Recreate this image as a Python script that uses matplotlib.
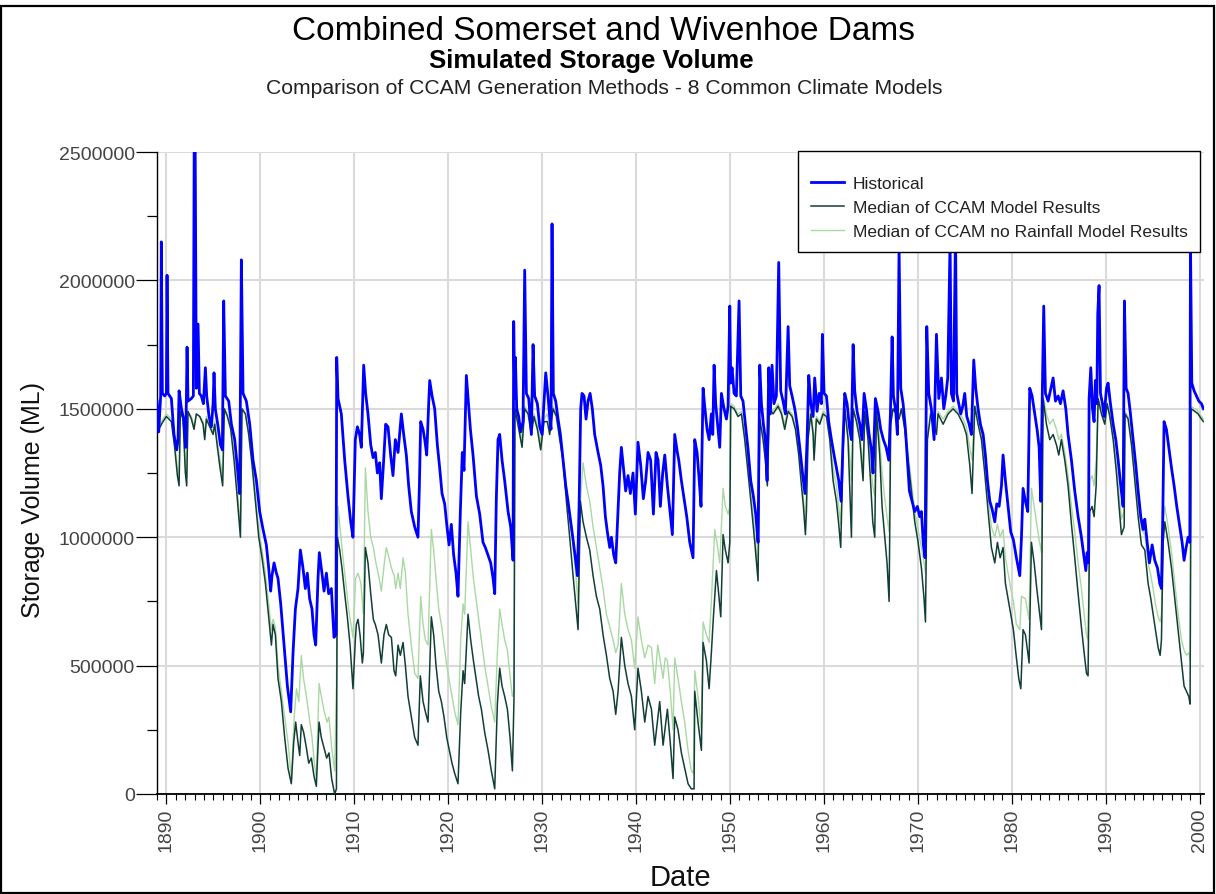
import matplotlib
matplotlib.use("Agg")
import matplotlib.pyplot as plt
from matplotlib.patches import Rectangle
from matplotlib.ticker import MultipleLocator

# ---------------- data ----------------
title = "Combined Somerset and Wivenhoe Dams"
subtitle = "Simulated Storage Volume"
subsubtitle = "Comparison of CCAM Generation Methods - 8 Common Climate Models"
series_names = ["Historical", "Median of CCAM Model Results",
                "Median of CCAM no Rainfall Model Results"]
x_ticks = [1890, 1900, 1910, 1920, 1930, 1940, 1950, 1960, 1970, 1980, 1990, 2000]
y_ticks = [0, 500000, 1000000, 1500000, 2000000, 2500000]

# Historical storage (year, thousand ML)
hist_year = [
    1889.00, 1889.18, 1889.39, 1889.46, 1889.57, 1889.82, 1890.00, 1890.07, 1890.17, 1890.53,
    1890.81, 1891.10, 1891.24, 1891.35, 1891.60, 1891.84, 1892.06, 1892.20, 1892.30, 1892.66,
    1892.87, 1892.96, 1893.06, 1893.19, 1893.37, 1893.51, 1893.72, 1893.94, 1894.15, 1894.29,
    1894.54, 1894.79, 1894.97, 1895.07, 1895.21, 1895.50, 1895.75, 1895.96, 1896.10, 1896.28,
    1896.63, 1896.92, 1897.27, 1897.56, 1897.80, 1897.98, 1898.16, 1898.51, 1898.87, 1899.22,
    1899.58, 1899.93, 1900.29, 1900.64, 1900.89, 1901.10, 1901.24, 1901.46, 1901.71, 1901.88,
    1902.17, 1902.52, 1902.88, 1903.23, 1903.48, 1903.73, 1904.01, 1904.26, 1904.54, 1904.79,
    1905.00, 1905.25, 1905.50, 1905.71, 1905.89, 1906.14, 1906.28, 1906.56, 1906.78, 1907.03,
    1907.27, 1907.56, 1907.84, 1908.05, 1908.13, 1908.27, 1908.62, 1908.98, 1909.33, 1909.62,
    1909.86, 1910.11, 1910.33, 1910.57, 1910.75, 1911.00, 1911.21, 1911.46, 1911.75, 1912.00,
    1912.24, 1912.46, 1912.70, 1912.88, 1913.13, 1913.34, 1913.59, 1913.87, 1914.12, 1914.37,
    1914.66, 1915.01, 1915.26, 1915.54, 1915.79, 1916.07, 1916.43, 1916.78, 1916.93, 1917.07,
    1917.32, 1917.50, 1917.71, 1917.92, 1918.03, 1918.28, 1918.56, 1918.84, 1919.09, 1919.34,
    1919.62, 1919.87, 1920.09, 1920.33, 1920.58, 1920.83, 1921.04, 1921.29, 1921.50, 1921.68,
    1921.93, 1922.11, 1922.36, 1922.64, 1923.00, 1923.35, 1923.70, 1923.95, 1924.24, 1924.52,
    1924.77, 1924.95, 1925.12, 1925.30, 1925.48, 1925.73, 1926.01, 1926.37, 1926.65, 1926.90,
    1926.97, 1927.08, 1927.15, 1927.29, 1927.50, 1927.71, 1927.96, 1928.14, 1928.32, 1928.57,
    1928.85, 1929.03, 1929.20, 1929.49, 1929.74, 1929.99, 1930.38, 1930.62, 1930.80, 1930.94,
    1931.05, 1931.19, 1931.44, 1931.69, 1931.94, 1932.22, 1932.51, 1932.75, 1933.04, 1933.29,
    1933.53, 1933.75, 1933.93, 1934.10, 1934.24, 1934.46, 1934.67, 1934.88, 1935.10, 1935.34,
    1935.59, 1935.95, 1936.23, 1936.48, 1936.73, 1936.94, 1937.19, 1937.37, 1937.62, 1937.83,
    1938.01, 1938.25, 1938.43, 1938.68, 1938.89, 1939.14, 1939.39, 1939.67, 1939.92, 1940.20,
    1940.49, 1940.77, 1941.02, 1941.27, 1941.55, 1941.84, 1942.12, 1942.34, 1942.58, 1942.83,
    1943.05, 1943.33, 1943.61, 1943.86, 1944.11, 1944.39, 1944.54, 1944.82, 1945.10, 1945.39,
    1945.71, 1945.88, 1946.06, 1946.24, 1946.49, 1946.70, 1946.91, 1947.13, 1947.30, 1947.55,
    1947.77, 1948.01, 1948.16, 1948.30, 1948.47, 1948.72, 1948.90, 1949.08, 1949.36, 1949.61,
    1949.79, 1949.97, 1950.07, 1950.21, 1950.43, 1950.67, 1950.96, 1951.14, 1951.38, 1951.63,
    1951.92, 1952.20, 1952.48, 1952.73, 1952.98, 1953.16, 1953.34, 1953.55, 1953.76, 1953.94,
    1954.12, 1954.29, 1954.47, 1954.68, 1954.93, 1955.18, 1955.39, 1955.64, 1955.89, 1956.18,
    1956.35, 1956.60, 1956.89, 1957.17, 1957.45, 1957.74, 1957.98, 1958.20, 1958.38, 1958.59,
    1958.84, 1959.01, 1959.26, 1959.48, 1959.72, 1959.83, 1960.01, 1960.26, 1960.50, 1960.79,
    1961.07, 1961.32, 1961.57, 1961.82, 1962.03, 1962.21, 1962.46, 1962.70, 1962.92, 1963.10,
    1963.27, 1963.52, 1963.81, 1964.05, 1964.27, 1964.51, 1964.80, 1965.05, 1965.22, 1965.47,
    1965.76, 1966.04, 1966.32, 1966.61, 1966.89, 1967.07, 1967.25, 1967.39, 1967.64, 1967.81,
    1967.99, 1968.17, 1968.42, 1968.67, 1968.88, 1969.09, 1969.38, 1969.66, 1969.94, 1970.19,
    1970.37, 1970.58, 1970.76, 1970.94, 1971.15, 1971.43, 1971.72, 1971.97, 1972.22, 1972.50,
    1972.75, 1972.96, 1973.17, 1973.42, 1973.56, 1973.78, 1974.00, 1974.13, 1974.35, 1974.56,
    1974.77, 1974.98, 1975.20, 1975.45, 1975.69, 1975.94, 1976.15, 1976.40, 1976.65, 1976.94,
    1977.18, 1977.40, 1977.65, 1977.89, 1978.18, 1978.39, 1978.64, 1978.89, 1979.06, 1979.31,
    1979.60, 1979.88, 1980.16, 1980.48, 1980.84, 1981.02, 1981.19, 1981.44, 1981.69, 1981.90,
    1982.15, 1982.44, 1982.68, 1982.90, 1983.07, 1983.22, 1983.39, 1983.57, 1983.86, 1984.10,
    1984.39, 1984.64, 1984.92, 1985.17, 1985.45, 1985.74, 1985.98, 1986.34, 1986.69, 1987.05,
    1987.40, 1987.69, 1987.87, 1988.01, 1988.15, 1988.22, 1988.40, 1988.58, 1988.75, 1988.89,
    1989.04, 1989.14, 1989.28, 1989.43, 1989.64, 1989.82, 1990.07, 1990.24, 1990.49, 1990.78,
    1991.06, 1991.31, 1991.59, 1991.84, 1991.98, 1992.16, 1992.37, 1992.62, 1992.90, 1993.19,
    1993.44, 1993.72, 1993.97, 1994.15, 1994.40, 1994.64, 1994.93, 1995.21, 1995.50, 1995.74,
    1995.92, 1996.06, 1996.20, 1996.45, 1996.70, 1996.99, 1997.27, 1997.55, 1997.84, 1998.12,
    1998.33, 1998.55, 1998.76, 1998.94, 1999.01, 1999.15, 1999.40, 1999.65, 1999.90, 2000.18,
    2000.39]
hist_kml = [
    1530, 1410, 1550, 2150, 1560, 1550, 1560, 2020, 1560, 1540,
    1400, 1340, 1380, 1570, 1500, 1460, 1350, 1740, 1530, 1540,
    1550, 2550, 2550, 1580, 1830, 1560, 1550, 1520, 1660, 1550,
    1470, 1430, 1520, 1640, 1500, 1430, 1360, 1340, 1920, 1550,
    1530, 1440, 1380, 1270, 1170, 2080, 1560, 1530, 1440, 1300,
    1220, 1100, 1030, 970, 880, 790, 850, 900, 860, 840,
    740, 580, 420, 320, 550, 720, 800, 950, 880, 800,
    860, 760, 720, 620, 580, 840, 940, 860, 790, 860,
    780, 800, 610, 620, 1700, 1540, 1480, 1300, 1160, 1060,
    1000, 1380, 1430, 1400, 1350, 1670, 1560, 1480, 1360, 1310,
    1330, 1250, 1290, 1150, 1300, 1440, 1430, 1320, 1240, 1380,
    1330, 1480, 1400, 1320, 1200, 1100, 1040, 1000, 1200, 1450,
    1420, 1380, 1320, 1520, 1610, 1550, 1500, 1360, 1270, 1170,
    1130, 1040, 970, 1050, 930, 860, 770, 1100, 1330, 1260,
    1630, 1540, 1420, 1320, 1160, 1090, 980, 960, 930, 900,
    840, 780, 1150, 1380, 1400, 1300, 1220, 1100, 1040, 910,
    1840, 1540, 1700, 1500, 1470, 1410, 1450, 2040, 1560, 1540,
    1400, 1750, 1550, 1520, 1430, 1400, 1640, 1550, 1470, 1420,
    2220, 1560, 1530, 1460, 1400, 1300, 1200, 1140, 1060, 990,
    920, 850, 1120, 1500, 1560, 1550, 1460, 1530, 1560, 1500,
    1400, 1330, 1280, 1200, 1080, 1020, 960, 1000, 930, 900,
    1050, 1250, 1350, 1260, 1180, 1240, 1170, 1250, 1090, 1370,
    1280, 1150, 1220, 1330, 1300, 1090, 1330, 1300, 1120, 1250,
    1320, 1200, 1100, 1010, 1400, 1330, 1300, 1220, 1150, 1080,
    980, 950, 920, 1380, 1330, 1230, 1120, 1580, 1510, 1420,
    1380, 1480, 1400, 1670, 1520, 1420, 1350, 1560, 1500, 1460,
    1510, 1900, 1600, 1660, 1560, 1550, 1920, 1550, 1530, 1440,
    1340, 1220, 1160, 1090, 980, 1670, 1520, 1440, 1380, 1220,
    1660, 1480, 1670, 1520, 1550, 2070, 1570, 1530, 1480, 1820,
    1590, 1550, 1500, 1430, 1340, 1240, 1170, 1380, 1630, 1520,
    1470, 1620, 1490, 1560, 1520, 1790, 1560, 1550, 1450, 1380,
    1320, 1270, 1220, 1140, 1380, 1560, 1520, 1430, 1380, 1750,
    1570, 1490, 1440, 1380, 1560, 1500, 1400, 1340, 1250, 1540,
    1490, 1420, 1380, 1350, 1300, 1480, 1780, 1550, 1490, 1400,
    2130, 1580, 1520, 1420, 1300, 1180, 1140, 1100, 1120, 1080,
    1100, 970, 920, 1820, 1560, 1500, 1380, 1790, 1540, 1620,
    1500, 1550, 1620, 2150, 1560, 1530, 2200, 1560, 1520, 1480,
    1510, 1560, 1470, 1440, 1400, 1690, 1580, 1500, 1440, 1400,
    1320, 1220, 1140, 1110, 1060, 1130, 1120, 1200, 1320, 1220,
    1120, 1020, 990, 920, 850, 1000, 1190, 1140, 1100, 1580,
    1550, 1480, 1420, 1350, 1140, 1520, 1900, 1560, 1530, 1570,
    1620, 1530, 1550, 1520, 1570, 1500, 1400, 1300, 1180, 1080,
    1000, 920, 870, 940, 900, 1540, 1660, 1500, 1450, 1610,
    1520, 1870, 1980, 1560, 1520, 1470, 1580, 1600, 1520, 1440,
    1380, 1300, 1200, 1120, 1920, 1580, 1560, 1480, 1380, 1280,
    1180, 1080, 1030, 1070, 980, 900, 970, 910, 880, 820,
    800, 1080, 1450, 1420, 1350, 1270, 1200, 1120, 1050, 980,
    910, 960, 1000, 980, 2150, 1600, 1570, 1550, 1530, 1520,
    1500]

# Median of CCAM model results (year, thousand ML)
ccam_year = [
    1889.00, 1889.18, 1889.64, 1890.00, 1890.53, 1890.88, 1891.17, 1891.35, 1891.49, 1891.77,
    1892.02, 1892.16, 1892.30, 1892.66, 1892.94, 1893.19, 1893.55, 1893.90, 1894.08, 1894.26,
    1894.61, 1894.97, 1895.14, 1895.43, 1895.71, 1895.99, 1896.17, 1896.49, 1896.85, 1897.20,
    1897.48, 1897.70, 1897.88, 1898.05, 1898.41, 1898.76, 1899.12, 1899.47, 1899.83, 1900.18,
    1900.54, 1900.89, 1901.18, 1901.35, 1901.60, 1901.88, 1902.24, 1902.59, 1902.95, 1903.30,
    1903.55, 1903.76, 1904.01, 1904.19, 1904.36, 1904.61, 1904.90, 1905.15, 1905.43, 1905.71,
    1905.96, 1906.25, 1906.49, 1906.78, 1907.06, 1907.31, 1907.59, 1907.91, 1908.10, 1908.20,
    1908.45, 1908.69, 1908.98, 1909.26, 1909.55, 1909.86, 1910.11, 1910.22, 1910.40, 1910.61,
    1910.86, 1910.97, 1911.18, 1911.46, 1911.75, 1912.03, 1912.24, 1912.53, 1912.88, 1913.16,
    1913.41, 1913.66, 1913.95, 1914.23, 1914.41, 1914.66, 1914.90, 1915.19, 1915.44, 1915.72,
    1916.07, 1916.43, 1916.78, 1917.03, 1917.32, 1917.57, 1917.85, 1918.20, 1918.45, 1918.70,
    1918.99, 1919.27, 1919.55, 1919.84, 1920.12, 1920.40, 1920.69, 1921.04, 1921.33, 1921.58,
    1921.75, 1922.11, 1922.39, 1922.68, 1922.96, 1923.24, 1923.53, 1923.88, 1924.24, 1924.59,
    1924.95, 1925.23, 1925.48, 1925.73, 1926.01, 1926.30, 1926.58, 1926.83, 1927.00, 1927.11,
    1927.36, 1927.61, 1927.86, 1928.14, 1928.50, 1928.85, 1929.13, 1929.49, 1929.84, 1930.20,
    1930.55, 1930.80, 1931.16, 1931.51, 1931.87, 1932.22, 1932.58, 1932.93, 1933.29, 1933.57,
    1933.82, 1934.07, 1934.35, 1934.71, 1935.06, 1935.42, 1935.77, 1936.13, 1936.48, 1936.84,
    1937.19, 1937.55, 1937.83, 1938.08, 1938.43, 1938.79, 1939.14, 1939.50, 1939.85, 1940.20,
    1940.56, 1940.92, 1941.27, 1941.63, 1941.98, 1942.51, 1942.87, 1943.33, 1943.68, 1943.93,
    1944.11, 1944.46, 1944.82, 1945.17, 1945.53, 1945.88, 1946.17, 1946.24, 1946.59, 1946.95,
    1947.13, 1947.48, 1947.77, 1948.01, 1948.23, 1948.55, 1948.79, 1949.01, 1949.26, 1949.50,
    1949.79, 1949.97, 1950.07, 1950.43, 1950.85, 1951.21, 1951.56, 1951.92, 1952.27, 1952.63,
    1952.98, 1953.16, 1953.51, 1953.76, 1953.97, 1954.19, 1954.58, 1955.11, 1955.47, 1955.82,
    1956.18, 1956.60, 1956.96, 1957.31, 1957.60, 1957.81, 1958.02, 1958.13, 1958.30, 1958.59,
    1958.84, 1958.94, 1959.19, 1959.55, 1959.90, 1960.26, 1960.61, 1960.97, 1961.32, 1961.57,
    1961.78, 1962.03, 1962.21, 1962.56, 1962.78, 1962.92, 1963.10, 1963.45, 1963.81, 1964.16,
    1964.34, 1964.69, 1964.98, 1965.19, 1965.40, 1965.58, 1965.93, 1966.18, 1966.47, 1966.71,
    1966.93, 1967.10, 1967.35, 1967.71, 1967.99, 1968.24, 1968.60, 1968.95, 1969.31, 1969.66,
    1970.02, 1970.37, 1970.65, 1970.80, 1971.01, 1971.36, 1971.72, 1971.97, 1972.14, 1972.68,
    1973.21, 1973.74, 1974.27, 1974.81, 1975.16, 1975.52, 1975.76, 1976.05, 1976.40, 1976.76,
    1977.11, 1977.47, 1977.82, 1978.18, 1978.46, 1978.75, 1979.06, 1979.31, 1979.60, 1979.88,
    1980.16, 1980.48, 1980.73, 1980.95, 1981.19, 1981.44, 1981.66, 1981.83, 1982.08, 1982.37,
    1982.65, 1982.90, 1983.15, 1983.32, 1983.68, 1984.03, 1984.39, 1984.74, 1984.99, 1985.27,
    1985.63, 1985.98, 1986.34, 1986.69, 1987.05, 1987.40, 1987.69, 1987.94, 1988.11, 1988.29,
    1988.54, 1988.75, 1988.97, 1989.18, 1989.53, 1989.89, 1990.14, 1990.42, 1990.78, 1991.13,
    1991.41, 1991.66, 1991.95, 1992.05, 1992.37, 1992.73, 1993.08, 1993.44, 1993.79, 1994.15,
    1994.50, 1994.79, 1995.03, 1995.28, 1995.57, 1995.78, 1995.92, 1996.10, 1996.28, 1996.63,
    1996.99, 1997.34, 1997.70, 1998.05, 1998.33, 1998.58, 1998.83, 1998.97, 1999.08, 1999.47,
    1999.82, 2000.18, 2000.39]
ccam_kml = [
    1450, 1420, 1450, 1470, 1450, 1350, 1240, 1200, 1490, 1460,
    1250, 1200, 1490, 1460, 1420, 1480, 1470, 1440, 1380, 1460,
    1430, 1400, 1440, 1350, 1270, 1200, 1500, 1470, 1420, 1300,
    1180, 1080, 1000, 1500, 1480, 1400, 1280, 1140, 1000, 920,
    820, 690, 580, 660, 620, 450, 360, 220, 100, 40,
    200, 280, 200, 150, 270, 240, 180, 120, 140, 70,
    30, 280, 220, 180, 140, 160, 60, 0, 20, 1000,
    950, 880, 780, 690, 580, 410, 600, 660, 680, 620,
    510, 550, 960, 900, 780, 680, 660, 620, 510, 620,
    660, 620, 610, 480, 460, 580, 540, 590, 500, 380,
    300, 220, 190, 460, 360, 320, 280, 690, 620, 500,
    400, 360, 300, 220, 170, 120, 80, 40, 320, 480,
    430, 700, 600, 520, 450, 380, 330, 240, 170, 90,
    20, 350, 490, 420, 380, 330, 220, 90, 370, 1500,
    1450, 1400, 1350, 1500, 1480, 1400, 1470, 1420, 1340, 1450,
    1450, 1400, 1500, 1470, 1380, 1300, 1140, 1000, 850, 740,
    640, 1140, 1060, 1000, 950, 850, 770, 720, 620, 540,
    450, 400, 310, 400, 610, 500, 430, 380, 250, 490,
    400, 280, 380, 330, 190, 360, 190, 330, 180, 60,
    300, 250, 160, 100, 40, 20, 20, 400, 280, 170,
    590, 520, 410, 550, 690, 870, 780, 690, 1010, 950,
    900, 980, 1510, 1500, 1470, 1480, 1380, 1250, 1120, 980,
    830, 1460, 1380, 1300, 1200, 1500, 1480, 1510, 1480, 1420,
    1490, 1470, 1420, 1320, 1200, 1120, 1010, 1100, 1380, 1480,
    1400, 1300, 1460, 1440, 1480, 1470, 1380, 1220, 1140, 1050,
    960, 1330, 1500, 1380, 1150, 1000, 1500, 1450, 1380, 1220,
    1490, 1380, 1200, 1060, 1000, 1490, 1320, 1120, 1000, 900,
    750, 1440, 1500, 1480, 1460, 1500, 1420, 1300, 1180, 1060,
    980, 880, 760, 670, 1380, 1480, 1440, 1400, 1480, 1440,
    1480, 1500, 1480, 1440, 1400, 1280, 1170, 1510, 1440, 1380,
    1250, 1100, 960, 900, 980, 920, 960, 820, 760, 700,
    640, 530, 450, 410, 640, 620, 560, 510, 980, 900,
    800, 720, 640, 1540, 1440, 1380, 1400, 1360, 1320, 1380,
    1300, 1200, 1050, 920, 780, 650, 550, 470, 460, 1100,
    1120, 1080, 1200, 1540, 1480, 1440, 1520, 1470, 1380, 1250,
    1120, 1010, 1040, 1480, 1460, 1360, 1220, 1080, 970, 950,
    820, 760, 700, 640, 570, 540, 600, 980, 1060, 980,
    880, 760, 640, 520, 420, 400, 380, 350, 1500, 1490,
    1480, 1460, 1450]

# Median of CCAM no-rainfall model results (year, thousand ML)
norain_year = [
    1889.00, 1889.18, 1889.64, 1890.00, 1890.53, 1890.88, 1891.17, 1891.35, 1891.49, 1891.77,
    1892.02, 1892.16, 1892.30, 1892.66, 1892.94, 1893.19, 1893.55, 1893.90, 1894.08, 1894.26,
    1894.61, 1894.97, 1895.14, 1895.43, 1895.71, 1895.99, 1896.17, 1896.49, 1896.85, 1897.20,
    1897.48, 1897.70, 1897.88, 1898.05, 1898.41, 1898.76, 1899.12, 1899.47, 1899.83, 1900.18,
    1900.54, 1900.89, 1901.18, 1901.35, 1901.60, 1901.88, 1902.24, 1902.59, 1902.95, 1903.30,
    1903.60, 1903.85, 1904.10, 1904.36, 1904.60, 1904.90, 1905.20, 1905.50, 1905.75, 1905.96,
    1906.25, 1906.50, 1906.80, 1907.10, 1907.30, 1907.60, 1907.91, 1908.10, 1908.27, 1908.50,
    1908.80, 1909.10, 1909.40, 1909.65, 1909.86, 1910.15, 1910.40, 1910.70, 1910.97, 1911.18,
    1911.46, 1911.75, 1912.03, 1912.30, 1912.60, 1912.88, 1913.20, 1913.41, 1913.70, 1913.95,
    1914.25, 1914.41, 1914.66, 1914.90, 1915.19, 1915.44, 1915.72, 1916.07, 1916.43, 1916.78,
    1917.07, 1917.32, 1917.57, 1917.85, 1918.20, 1918.45, 1918.70, 1918.99, 1919.27, 1919.55,
    1919.84, 1920.12, 1920.40, 1920.69, 1921.04, 1921.33, 1921.58, 1921.75, 1922.11, 1922.39,
    1922.68, 1922.96, 1923.24, 1923.53, 1923.88, 1924.24, 1924.59, 1924.95, 1925.23, 1925.48,
    1925.73, 1926.01, 1926.30, 1926.58, 1926.83, 1927.00, 1927.10, 1927.36, 1927.61, 1927.86,
    1928.14, 1928.50, 1928.85, 1929.13, 1929.49, 1929.84, 1930.20, 1930.55, 1930.80, 1931.16,
    1931.51, 1931.87, 1932.22, 1932.58, 1932.93, 1933.29, 1933.57, 1933.82, 1934.07, 1934.35,
    1934.71, 1935.06, 1935.42, 1935.77, 1936.13, 1936.48, 1936.84, 1937.19, 1937.55, 1937.83,
    1938.08, 1938.43, 1938.79, 1939.14, 1939.50, 1939.85, 1940.20, 1940.56, 1940.92, 1941.27,
    1941.63, 1941.98, 1942.30, 1942.87, 1943.10, 1943.33, 1943.68, 1943.93, 1944.11, 1944.46,
    1944.82, 1945.17, 1945.53, 1945.88, 1946.10, 1946.24, 1946.59, 1946.95, 1947.13, 1947.48,
    1947.77, 1948.01, 1948.37, 1948.60, 1948.90, 1949.26, 1949.50, 1949.79, 1949.97, 1950.07,
    1950.43, 1950.85, 1951.21, 1951.56, 1951.92, 1952.27, 1952.63, 1952.98, 1953.16, 1953.51,
    1953.76, 1953.97, 1954.19, 1954.58, 1955.11, 1955.47, 1955.82, 1956.18, 1956.60, 1956.96,
    1957.31, 1957.60, 1957.81, 1958.02, 1958.31, 1958.59, 1958.84, 1958.94, 1959.19, 1959.55,
    1959.90, 1960.26, 1960.61, 1960.97, 1961.32, 1961.57, 1961.78, 1962.03, 1962.21, 1962.56,
    1962.78, 1962.92, 1963.10, 1963.45, 1963.81, 1964.16, 1964.34, 1964.69, 1964.98, 1965.19,
    1965.40, 1965.58, 1965.93, 1966.18, 1966.47, 1966.71, 1966.93, 1967.10, 1967.35, 1967.71,
    1967.99, 1968.24, 1968.60, 1968.95, 1969.31, 1969.66, 1970.02, 1970.37, 1970.65, 1970.80,
    1971.01, 1971.36, 1971.72, 1971.97, 1972.14, 1972.68, 1973.21, 1973.74, 1974.27, 1974.81,
    1975.16, 1975.52, 1975.76, 1976.05, 1976.40, 1976.76, 1977.11, 1977.47, 1977.82, 1978.18,
    1978.46, 1978.75, 1979.06, 1979.31, 1979.60, 1979.88, 1980.16, 1980.48, 1980.84, 1981.02,
    1981.44, 1981.83, 1982.08, 1982.37, 1982.65, 1982.90, 1983.15, 1983.32, 1983.68, 1984.03,
    1984.39, 1984.74, 1984.99, 1985.27, 1985.63, 1985.98, 1986.34, 1986.69, 1987.05, 1987.40,
    1987.69, 1987.94, 1988.11, 1988.29, 1988.54, 1988.75, 1988.97, 1989.18, 1989.53, 1989.89,
    1990.14, 1990.42, 1990.78, 1991.13, 1991.41, 1991.66, 1991.95, 1992.05, 1992.37, 1992.73,
    1993.08, 1993.44, 1993.79, 1994.15, 1994.50, 1994.79, 1995.03, 1995.28, 1995.57, 1995.78,
    1995.92, 1996.10, 1996.28, 1996.63, 1996.99, 1997.34, 1997.70, 1998.05, 1998.33, 1998.58,
    1998.83, 1998.97, 1999.08, 1999.47, 1999.82, 2000.18, 2000.39]
norain_kml = [
    1460, 1430, 1460, 1480, 1460, 1370, 1270, 1240, 1490, 1470,
    1280, 1230, 1490, 1470, 1430, 1480, 1470, 1450, 1400, 1470,
    1440, 1410, 1450, 1370, 1300, 1240, 1500, 1480, 1430, 1330,
    1220, 1120, 1050, 1500, 1480, 1410, 1300, 1170, 1030, 950,
    860, 740, 640, 680, 650, 500, 400, 300, 200, 60,
    300, 410, 360, 540, 450, 380, 300, 220, 120, 60,
    430, 380, 320, 280, 300, 180, 90, 430, 1120, 1030,
    920, 820, 720, 660, 610, 840, 860, 820, 700, 1270,
    1100, 1000, 960, 900, 850, 790, 900, 960, 920, 880,
    850, 800, 860, 800, 920, 860, 700, 580, 470, 450,
    770, 660, 600, 580, 1030, 950, 840, 720, 660, 580,
    500, 440, 380, 320, 270, 600, 740, 700, 1060, 950,
    840, 760, 680, 600, 500, 420, 340, 280, 550, 720,
    660, 600, 560, 460, 380, 400, 1520, 1470, 1420, 1380,
    1510, 1490, 1420, 1480, 1440, 1370, 1460, 1480, 1420, 1510,
    1480, 1400, 1320, 1200, 1080, 960, 860, 740, 1140, 1290,
    1200, 1140, 1040, 960, 880, 800, 700, 650, 600, 550,
    580, 820, 700, 640, 600, 490, 690, 600, 530, 580,
    570, 430, 580, 450, 530, 520, 380, 250, 530, 450,
    360, 280, 170, 90, 80, 480, 380, 240, 670, 620,
    590, 750, 1030, 980, 900, 1190, 1120, 1090, 1120, 1520,
    1510, 1480, 1490, 1400, 1280, 1150, 1020, 870, 1470, 1400,
    1330, 1240, 1510, 1490, 1520, 1490, 1440, 1500, 1480, 1430,
    1340, 1230, 1150, 1050, 1400, 1490, 1420, 1340, 1470, 1450,
    1490, 1480, 1400, 1270, 1200, 1120, 1050, 1380, 1500, 1400,
    1300, 1220, 1500, 1460, 1400, 1280, 1490, 1400, 1280, 1200,
    1160, 1490, 1380, 1250, 1150, 1080, 1020, 1450, 1500, 1490,
    1470, 1500, 1440, 1330, 1210, 1100, 1030, 960, 900, 860,
    1400, 1490, 1450, 1420, 1490, 1460, 1490, 1510, 1490, 1460,
    1430, 1350, 1300, 1510, 1460, 1400, 1300, 1160, 1040, 1000,
    1050, 1000, 1030, 920, 860, 800, 750, 660, 640, 770,
    760, 680, 1190, 1120, 1050, 990, 940, 1550, 1480, 1440,
    1460, 1420, 1380, 1400, 1330, 1240, 1120, 1020, 900, 800,
    700, 620, 600, 1220, 1240, 1200, 1300, 1540, 1500, 1460,
    1520, 1480, 1400, 1280, 1170, 1070, 1100, 1490, 1470, 1380,
    1250, 1130, 1030, 1010, 900, 850, 800, 740, 690, 670,
    700, 1060, 1120, 1040, 940, 820, 700, 600, 560, 540,
    550, 520, 1510, 1500, 1490, 1470, 1460]

# ---------------- figure ----------------
W, H = 1216, 895
fig = plt.figure(figsize=(W / 100, H / 100), dpi=100)
fig.patch.set_facecolor("white")
fam = ["Liberation Sans", "DejaVu Sans"]

ax_l, ax_r, ax_t, ax_b = 157, 1204, 153, 795
ax = fig.add_axes([ax_l / W, 1 - ax_b / H, (ax_r - ax_l) / W, (ax_b - ax_t) / H])

lg, = ax.plot(norain_year, [v * 1000 for v in norain_kml], color="#a9d8a3",
              lw=1.0, zorder=3, label=series_names[2])
dg, = ax.plot(ccam_year, [v * 1000 for v in ccam_kml], color="#123f35",
              lw=1.1, zorder=4, label=series_names[1])
bl, = ax.plot(hist_year, [v * 1000 for v in hist_kml], color="#0000ff",
              lw=2.0, zorder=5, label=series_names[0])

ax.set_xlim(1889.0, 2000.45)
ax.set_ylim(0, 2500000)

ax.set_yticks(y_ticks)
ax.set_yticklabels([str(v) for v in y_ticks])
ax.yaxis.set_minor_locator(MultipleLocator(250000))
ax.set_xticks(x_ticks)
ax.set_xticklabels([str(v) for v in x_ticks], rotation=90)
ax.xaxis.set_minor_locator(MultipleLocator(1))

ax.grid(True, which="major", color="#dadada", lw=1.5, zorder=0)
ax.set_axisbelow(True)

for s in ("top", "right"):
    ax.spines[s].set_visible(False)
ax.spines["left"].set_linewidth(1.0)
ax.spines["bottom"].set_linewidth(1.3)

ax.tick_params(axis="y", which="major", direction="out", length=15, width=0.9,
               pad=1, labelcolor="#444444", labelsize=14)
ax.tick_params(axis="y", which="minor", direction="out", length=7, width=0.9)
ax.tick_params(axis="x", which="major", direction="out", length=7, width=0.9,
               pad=3, labelcolor="#444444", labelsize=14)
ax.tick_params(axis="x", which="minor", direction="out", length=4, width=0.8)
for lab in ax.get_xticklabels() + ax.get_yticklabels():
    lab.set_family(fam)

ax.set_ylabel("Storage Volume (ML)", fontsize=18, family=fam, color="#111111")
ax.yaxis.set_label_coords((45 - ax_l) / (ax_r - ax_l), (ax_b - 500) / (ax_b - ax_t))
ax.set_xlabel("Date", fontsize=21, family=fam, color="#111111")
ax.xaxis.set_label_coords(0.5, -(864 - ax_b) / (ax_b - ax_t))

leg = ax.legend(handles=[bl, dg, lg], loc="upper right",
                bbox_to_anchor=((1200 - ax_l) / (ax_r - ax_l), (ax_b - 152) / (ax_b - ax_t)),
                frameon=True, fancybox=False, shadow=False, framealpha=1,
                edgecolor="black", prop=dict(family=fam, size=12.5),
                title=" ", title_fontsize=2.5,
                handlelength=1.9, handletextpad=0.52, labelspacing=0.5, borderpad=0.72,
                borderaxespad=0)
leg.get_frame().set_linewidth(1.0)
for t in leg.get_texts():
    t.set_color("#222222")
leg.set_zorder(10)

fig.text(604 / W, 1 - 32 / H, title, ha="center", va="center", fontsize=24, family=fam)
fig.text(591 / W, 1 - 61 / H, subtitle, ha="center", va="center", fontsize=18.5,
         fontweight="bold", family=fam)
fig.text(604 / W, 1 - 88 / H, subsubtitle, ha="center", va="center", fontsize=15.2,
         family=fam, color="#222222")

fig.add_artist(Rectangle((1 / W, 1 / H), (W - 3) / W, (H - 8) / H, transform=fig.transFigure,
                         fill=False, edgecolor="black", lw=1.6))

fig.savefig("out.png", dpi=100, facecolor="white")
